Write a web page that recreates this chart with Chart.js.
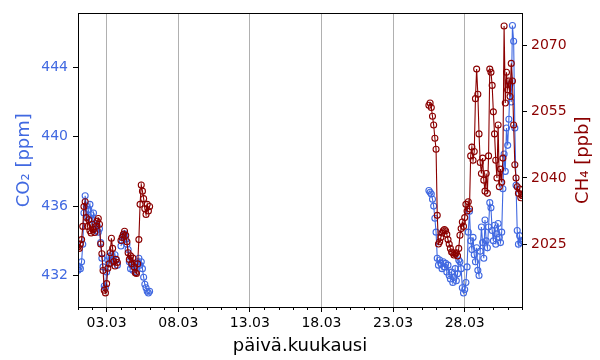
<!DOCTYPE html>
<html>
<head>
<meta charset="utf-8">
<script src="https://cdn.jsdelivr.net/npm/chart.js@4"></script>
<style>
  html, body { margin: 0; padding: 0; background: #fff; }
  #wrap { width: 600px; height: 360px; }
</style>
</head>
<body>
<div id="wrap"><canvas id="gasChart" width="600" height="360"></canvas></div>
<script>
// time in days from 01.03 00:00, one sample every 2 hours
var seg1Start = 0;
var seg2Start = 24.5;
var stepDays = 2 / 24;

var co2Seg1 = [432.3, 432.5, 432.4, 432.8, 433.8, 435.6, 436.6, 436.0, 435.4, 435.8,
  436.1, 435.5, 435.2, 435.6, 435.0, 434.6, 434.9, 434.5, 434.7, 433.9,
  433.0, 432.5, 431.4, 431.3, 432.2, 432.9, 433.1, 432.7, 433.2, 432.9,
  432.8, 433.2, 432.9, 432.6, null, null, 433.7, 434.0, 434.3, 434.4,
  434.1, 433.8, 433.5, 432.8, 432.4, 432.6, 432.3, 432.7, 432.5, 432.2,
  432.8, 433.0, 432.6, 432.8, 432.4, 431.9, 431.5, 431.3, 431.1, 431.0, 431.1];

var ch4Seg1 = [2024.3, 2024.0, 2025.0, 2026.0, 2029.0, 2033.5, 2034.6, 2031.0, 2029.0, 2030.5,
  2028.0, 2027.5, 2029.5, 2028.3, 2027.6, 2029.0, 2030.2, 2030.8, 2029.5, 2025.0,
  2022.8, 2019.0, 2014.5, 2013.9, 2016.0, 2019.5, 2020.5, 2023.0, 2026.3, 2024.0,
  2021.0, 2020.0, 2021.5, 2020.8, null, null, 2025.8, 2026.5, 2027.2, 2027.9,
  2027.0, 2025.5, 2023.0, 2021.5, 2022.3, 2020.5, 2021.8, 2019.8, 2018.5, 2018.3,
  2020.5, 2026.0, 2034.0, 2038.4, 2037.0, 2035.3, 2033.0, 2031.7, 2034.0, 2032.5, 2033.5];

var co2Seg2 = [436.9, 436.8, 436.7, 436.4, 436.0, 435.3, 434.5, 433.0, 432.6, 432.9,
  432.7, 432.4, 432.8, 432.5, 432.7, 432.2, 432.6, 432.0, 431.8, 432.2,
  431.6, 431.9, 432.4, 431.7, 432.1, 432.9, 432.8, 432.4, 431.3, 431.0,
  431.2, 431.6, 432.5, 434.5, 435.7, 434.0, 433.5, 434.2, 433.2, 432.8,
  433.6, 432.3, 432.0, 433.4, 434.8, 433.9, 433.0, 435.2, 434.0, 433.6,
  434.8, 436.2, 435.9, 434.6, 434.0, 434.9, 433.8, 434.4, 435.0, 434.2,
  433.9, 434.5, 437.0, 439.0, 438.0, 440.5, 439.5, 441.0, 443.0, 442.0,
  446.4, 445.5, 440.5, 437.2, 434.6, 433.8, 434.3, 433.9, 434.0];

var ch4Seg2 = [2056.5, 2057.0, 2056.0, 2054.0, 2052.0, 2049.0, 2046.5, 2031.5, 2025.0, 2025.5,
  2026.5, 2027.5, 2028.0, 2028.3, 2028.0, 2027.2, 2026.0, 2025.0, 2024.0, 2023.2,
  2023.0, 2022.5, 2022.8, 2023.0, 2022.3, 2024.0, 2027.0, 2028.5, 2030.0, 2029.0,
  2031.0, 2034.0, 2032.5, 2034.6, 2033.0, 2045.0, 2047.0, 2044.0, 2046.0, 2058.0,
  2064.7, 2059.0, 2050.0, 2043.5, 2041.0, 2044.5, 2039.5, 2037.0, 2041.0, 2036.5,
  2045.0, 2064.7, 2064.0, 2061.0, 2055.0, 2050.0, 2044.0, 2040.0, 2052.0, 2038.0,
  2042.0, 2039.0, 2044.5, 2074.5, 2057.0, 2064.0, 2060.0, 2062.0, 2058.5, 2066.0,
  2062.0, 2052.0, 2043.0, 2040.0, 2038.0, 2036.5, 2037.5, 2035.5, 2036.0];

var xTickDays = [2, 7, 12, 17, 22, 27];
var xTickLabels = ['03.03', '08.03', '13.03', '18.03', '23.03', '28.03'];
var co2Ticks = [432, 436, 440, 444];
var ch4Ticks = [2025, 2040, 2055, 2070];

var co2Color = '#4169E1';
var ch4Color = '#8B0000';

function toPoints(start, values) {
  return values.map(function (v, i) {
    return { x: start + i * stepDays, y: v };
  });
}

function joinSegments(a, b) {
  // null point so the line breaks over the missing days
  return toPoints(seg1Start, a).concat([{ x: 15, y: null }], toPoints(seg2Start, b));
}

var tickFont = { family: 'DejaVu Sans', size: 14 };
var titleFont = { family: 'DejaVu Sans', size: 18 };

// box around the plot, daily minor ticks, and the right axis title
// (Chart.js turns a right title the other way round)
var frameAndMinorTicks = {
  id: 'frameAndMinorTicks',
  afterDraw: function (chart) {
    var ctx = chart.ctx;
    var area = chart.chartArea;
    var xs = chart.scales.x;
    ctx.save();
    ctx.strokeStyle = '#000';
    ctx.lineWidth = 1;
    for (var d = 0; d <= 31; d++) {
      if (xTickDays.indexOf(d) !== -1) continue;
      var px = Math.round(xs.getPixelForValue(d)) + 0.5;
      ctx.beginPath();
      ctx.moveTo(px, area.bottom);
      ctx.lineTo(px, area.bottom + 3);
      ctx.stroke();
    }
    ctx.strokeRect(Math.round(area.left) + 0.5, Math.round(area.top) + 0.5,
      Math.round(area.right - area.left), Math.round(area.bottom - area.top));

    var ys = chart.scales.y1;
    ctx.translate(ys.right - 17, (area.top + area.bottom) / 2);
    ctx.rotate(-Math.PI / 2);
    ctx.fillStyle = ch4Color;
    ctx.font = titleFont.size + 'px "' + titleFont.family + '"';
    ctx.textAlign = 'center';
    ctx.textBaseline = 'middle';
    ctx.fillText('CH₄ [ppb]', 0, 0);
    ctx.restore();
  }
};

new Chart(document.getElementById('gasChart').getContext('2d'), {
  type: 'line',
  data: {
    datasets: [{
      label: 'CH4',
      data: joinSegments(ch4Seg1, ch4Seg2),
      yAxisID: 'y1',
      borderColor: ch4Color,
      borderWidth: 1.1,
      pointRadius: 3,
      pointBorderWidth: 1.1,
      pointBorderColor: ch4Color,
      pointBackgroundColor: 'rgba(0,0,0,0)',
      spanGaps: false,
      tension: 0
    }, {
      label: 'CO2',
      data: joinSegments(co2Seg1, co2Seg2),
      yAxisID: 'y',
      borderColor: co2Color,
      borderWidth: 1.1,
      pointRadius: 3,
      pointBorderWidth: 1.1,
      pointBorderColor: co2Color,
      pointBackgroundColor: 'rgba(0,0,0,0)',
      spanGaps: false,
      tension: 0
    }]
  },
  options: {
    responsive: false,
    animation: false,
    devicePixelRatio: 1,
    layout: { padding: { top: 8, left: 0, right: 0, bottom: 0 } },
    plugins: { legend: { display: false }, tooltip: { enabled: false } },
    scales: {
      x: {
        type: 'linear',
        min: 0,
        max: 31,
        afterBuildTicks: function (scale) {
          scale.ticks = xTickDays.map(function (d) { return { value: d }; });
        },
        afterFit: function (scale) { scale.height = 53; },
        ticks: {
          color: '#000',
          font: tickFont,
          padding: 3,
          maxRotation: 0,
          callback: function (value) {
            var i = xTickDays.indexOf(value);
            return i === -1 ? '' : xTickLabels[i];
          }
        },
        grid: { color: '#b0b0b0', lineWidth: 1, tickColor: '#000', tickLength: 5 },
        border: { display: false },
        title: { display: true, text: 'päivä.kuukausi', color: '#000', font: titleFont, padding: { top: 0, bottom: 3 } }
      },
      y: {
        position: 'left',
        min: 430.19,
        max: 447.1,
        afterBuildTicks: function (scale) {
          scale.ticks = co2Ticks.map(function (v) { return { value: v }; });
        },
        afterFit: function (scale) { scale.width = 78; },
        ticks: {
          color: co2Color, font: tickFont, padding: 5,
          callback: function (value) { return String(value); }
        },
        grid: { color: 'rgba(0,0,0,0)', tickColor: '#000', tickLength: 5 },
        border: { display: false },
        title: { display: true, text: 'CO₂ [ppm]', color: co2Color, font: titleFont, padding: { top: 14, bottom: 0 } }
      },
      y1: {
        position: 'right',
        min: 2010.7,
        max: 2077.35,
        afterBuildTicks: function (scale) {
          scale.ticks = ch4Ticks.map(function (v) { return { value: v }; });
        },
        afterFit: function (scale) { scale.width = 78; },
        ticks: {
          color: ch4Color, font: tickFont, padding: 4,
          callback: function (value) { return String(value); }
        },
        grid: { drawOnChartArea: false, tickColor: '#000', tickLength: 5 },
        border: { display: false },
        title: { display: false }
      }
    }
  },
  plugins: [frameAndMinorTicks]
});
</script>
</body>
</html>
